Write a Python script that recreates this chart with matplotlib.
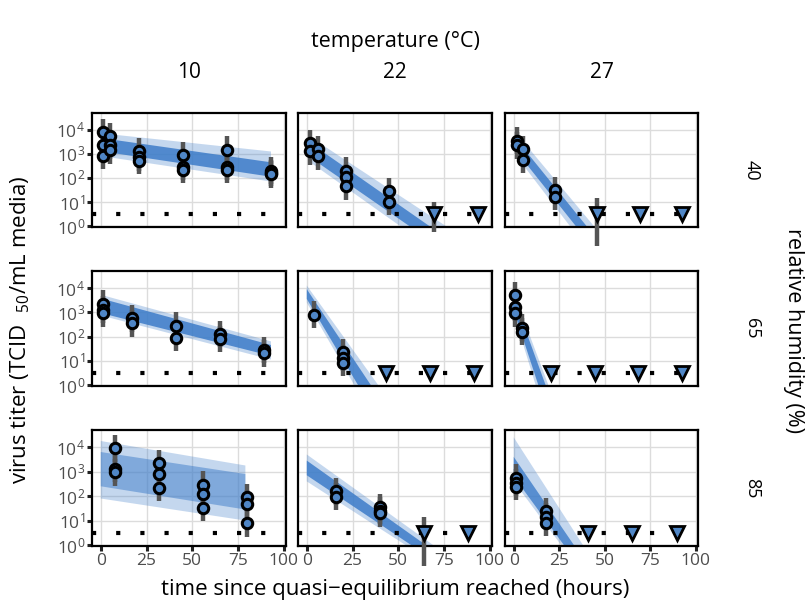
import numpy as np
import matplotlib
matplotlib.use("Agg")
import matplotlib.pyplot as plt

plt.rcParams["font.family"] = ["Open Sans", "DejaVu Sans"]
plt.rcParams["mathtext.fontset"] = "custom"
plt.rcParams["mathtext.rm"] = "Open Sans"
plt.rcParams["mathtext.it"] = "Open Sans:italic"

# ---------------- data (log10 titer) ----------------
temps = ["10", "22", "27"]
humid = ["40", "65", "85"]

# panels in row order: (40,10) (40,22) (40,27) (65,10) ...
obs_time = [
    [1, 1, 1, 5, 5, 5, 21, 21, 21, 45, 45, 45, 69, 69, 69, 93, 93, 93],
    [1.5, 1.5, 6, 6, 21.5, 21.5, 21.5, 45, 45],
    [2, 2, 5, 5, 22.5, 22.5],
    [1, 1, 1, 17, 17, 41, 41, 65, 65, 89, 89],
    [4, 20, 20, 20],
    [0.5, 0.5, 0.5, 4.5, 4.5],
    [8, 8, 8, 32, 32, 32, 56, 56, 56, 80, 80, 80],
    [16, 16, 40, 40, 40],
    [1.5, 1.5, 1.5, 17.5, 17.5, 17.5],
]
obs_log = [
    [3.92, 3.35, 2.92, 3.75, 3.35, 3.15, 3.1, 2.85, 2.7, 2.95, 2.45, 2.33, 3.18, 2.45, 2.35, 2.3, 2.2, 2.15],
    [3.45, 3.1, 3.2, 2.9, 2.3, 2.05, 1.65, 1.45, 1.0],
    [3.55, 3.35, 3.2, 2.75, 1.5, 1.2],
    [3.35, 3.1, 2.95, 2.75, 2.55, 2.45, 1.95, 2.1, 1.9, 1.45, 1.3],
    [2.9, 1.35, 1.12, 0.92],
    [3.7, 3.2, 2.95, 2.37, 2.2],
    [3.95, 3.12, 2.98, 3.35, 2.92, 2.33, 2.47, 2.1, 1.53, 1.95, 1.68, 0.88],
    [2.2, 1.97, 1.55, 1.4, 1.3],
    [2.75, 2.55, 2.38, 1.38, 1.15, 0.92],
]
err_half = 0.55

# samples below detection limit
nd_time = [
    [], [69.5, 93.5], [45.5, 69.5, 92.5],
    [], [43.5, 67.5, 91.5], [20.5, 44.5, 68.5, 92.5],
    [], [64, 88], [41, 65, 89.5],
]
nd_bar = [None, (69.5, -0.25, 1.0), (45.5, -0.85, 1.15),
          None, None, None,
          None, (64, -0.85, 1.15), None]
lod_log = 0.5

# fitted decay bands: t0, t1, (upper0, lower0, upper1, lower1)
band_t = [(1, 93), (1, 93), (2, 45), (1, 93), (0, 45), (1, 22), (0, 79), (0, 72), (0, 40)]
band_core = [
    (3.65, 3.1, 2.65, 2.05), (3.5, 2.9, -1.38, -1.95), (3.55, 3.05, -0.47, -1.04),
    (3.55, 2.95, 1.65, 1.2), (3.95, 3.55, -1.13, -2.16), (3.4, 2.85, -0.93, -1.94),
    (3.8, 2.4, 2.9, 1.45), (3.45, 2.85, -0.37, -0.75), (3.6, 2.8, -0.76, -1.27),
]
band_outer = [
    (3.85, 2.9, 3.1, 1.85), (3.75, 2.7, -0.85, -2.27), (3.8, 2.85, -0.09, -1.4),
    (3.7, 2.85, 1.8, 1.05), (4.1, 3.4, -0.63, -2.5), (3.6, 2.7, -0.6, -2.45),
    (4.25, 1.9, 3.25, 1.0), (3.7, 2.6, -0.16, -0.87), (4.4, 2.6, -0.23, -1.4),
]
core_alpha = [0.85, 0.85, 0.85, 0.85, 0.85, 0.85, 0.5, 0.85, 0.8]

# ---------------- figure ----------------
W, H = 805, 606
fig = plt.figure(figsize=(W / 100, H / 100), dpi=100)

col_x = [(92, 286), (298, 492), (505, 698)]
row_y = [(113, 227), (271, 386), (430, 546)]

blue = "#3d7cc9"
fill = "#4f86c6"
grey_txt = "#4d4d4d"

for r in range(3):
    for c in range(3):
        i = r * 3 + c
        x0, x1 = col_x[c]
        y0, y1 = row_y[r]
        ax = fig.add_axes([x0 / W, 1 - y1 / H, (x1 - x0) / W, (y1 - y0) / H])
        ax.set_yscale("log")
        ax.set_xlim(-4.8, 101.2)
        ax.set_ylim(10 ** -0.04, 10 ** 4.7)

        ax.grid(True, color="#dcdcdc", lw=1.0)
        ax.set_axisbelow(True)

        # bands
        t0, t1 = band_t[i]
        for b, a in ((band_outer[i], 0.3), (band_core[i], core_alpha[i])):
            ax.fill([t0, t1, t1, t0], [10 ** b[0], 10 ** b[2], 10 ** b[3], 10 ** b[1]],
                    color=blue, alpha=a, lw=0, zorder=2)

        # detection limit
        ax.axhline(10 ** lod_log, color="black", lw=3.0, ls=(0, (1, 4.8)),
                   dash_capstyle="butt", zorder=3)

        # error bars
        ts = np.array(obs_time[i])
        vs = np.array(obs_log[i])
        ax.vlines(ts, 10 ** (vs - err_half), 10 ** (vs + err_half),
                  color="#555555", lw=3.2, zorder=4, clip_on=False)
        if nd_bar[i] is not None:
            bt, blo, bhi = nd_bar[i]
            ax.vlines([bt], 10 ** blo, 10 ** bhi, color="#555555", lw=3.2,
                      zorder=4, clip_on=False)

        ax.plot(ts, 10 ** vs, "o", ms=7.5, mfc=fill, mec="black", mew=2.2,
                zorder=5, clip_on=False)
        if nd_time[i]:
            ax.plot(nd_time[i], [10 ** lod_log] * len(nd_time[i]), "v", ms=10,
                    mfc=fill, mec="black", mew=2.0, zorder=5, clip_on=False)

        for s in ax.spines.values():
            s.set_linewidth(1.6)
            s.set_color("black")

        ax.set_xticks([0, 25, 50, 75, 100])
        ax.set_yticks([1, 10, 100, 1000, 10000])
        ax.minorticks_off()
        ax.tick_params(length=3.5, width=2.2, color="#222222", labelsize=12.5,
                       labelcolor=grey_txt, pad=1.5)
        if c == 0:
            ax.set_yticklabels(["$10^{%d}$" % k for k in range(5)])
        else:
            ax.tick_params(axis="y", length=0, labelleft=False)
        if r == 2:
            ax.set_xticklabels(["0", "25", "50", "75", "100"])
        else:
            ax.tick_params(axis="x", length=0, labelbottom=False)

# labels
fig.text(395 / W, 1 - 42 / H, "temperature (°C)", ha="center", va="center", fontsize=15.5)
for c, lab in enumerate(temps):
    fig.text((col_x[c][0] + col_x[c][1]) / 2 / W, 1 - 72 / H, lab,
             ha="center", va="center", fontsize=15)
for r, lab in enumerate(humid):
    fig.text(752 / W, 1 - (row_y[r][0] + row_y[r][1]) / 2 / H, lab,
             ha="center", va="center", fontsize=13, rotation=270)
fig.text(793 / W, 1 - 330 / H, "relative humidity (%)", ha="center", va="center",
         fontsize=15.5, rotation=270)
fig.text(20 / W, 1 - 330 / H, "virus titer (TCID  $_{50}$/mL media)", ha="center",
         va="center", fontsize=16, rotation=90)
fig.text(395 / W, 1 - 590 / H, "time since quasi\u2212equilibrium reached (hours)",
         ha="center", va="center", fontsize=16)

fig.savefig("out.png", dpi=100)
